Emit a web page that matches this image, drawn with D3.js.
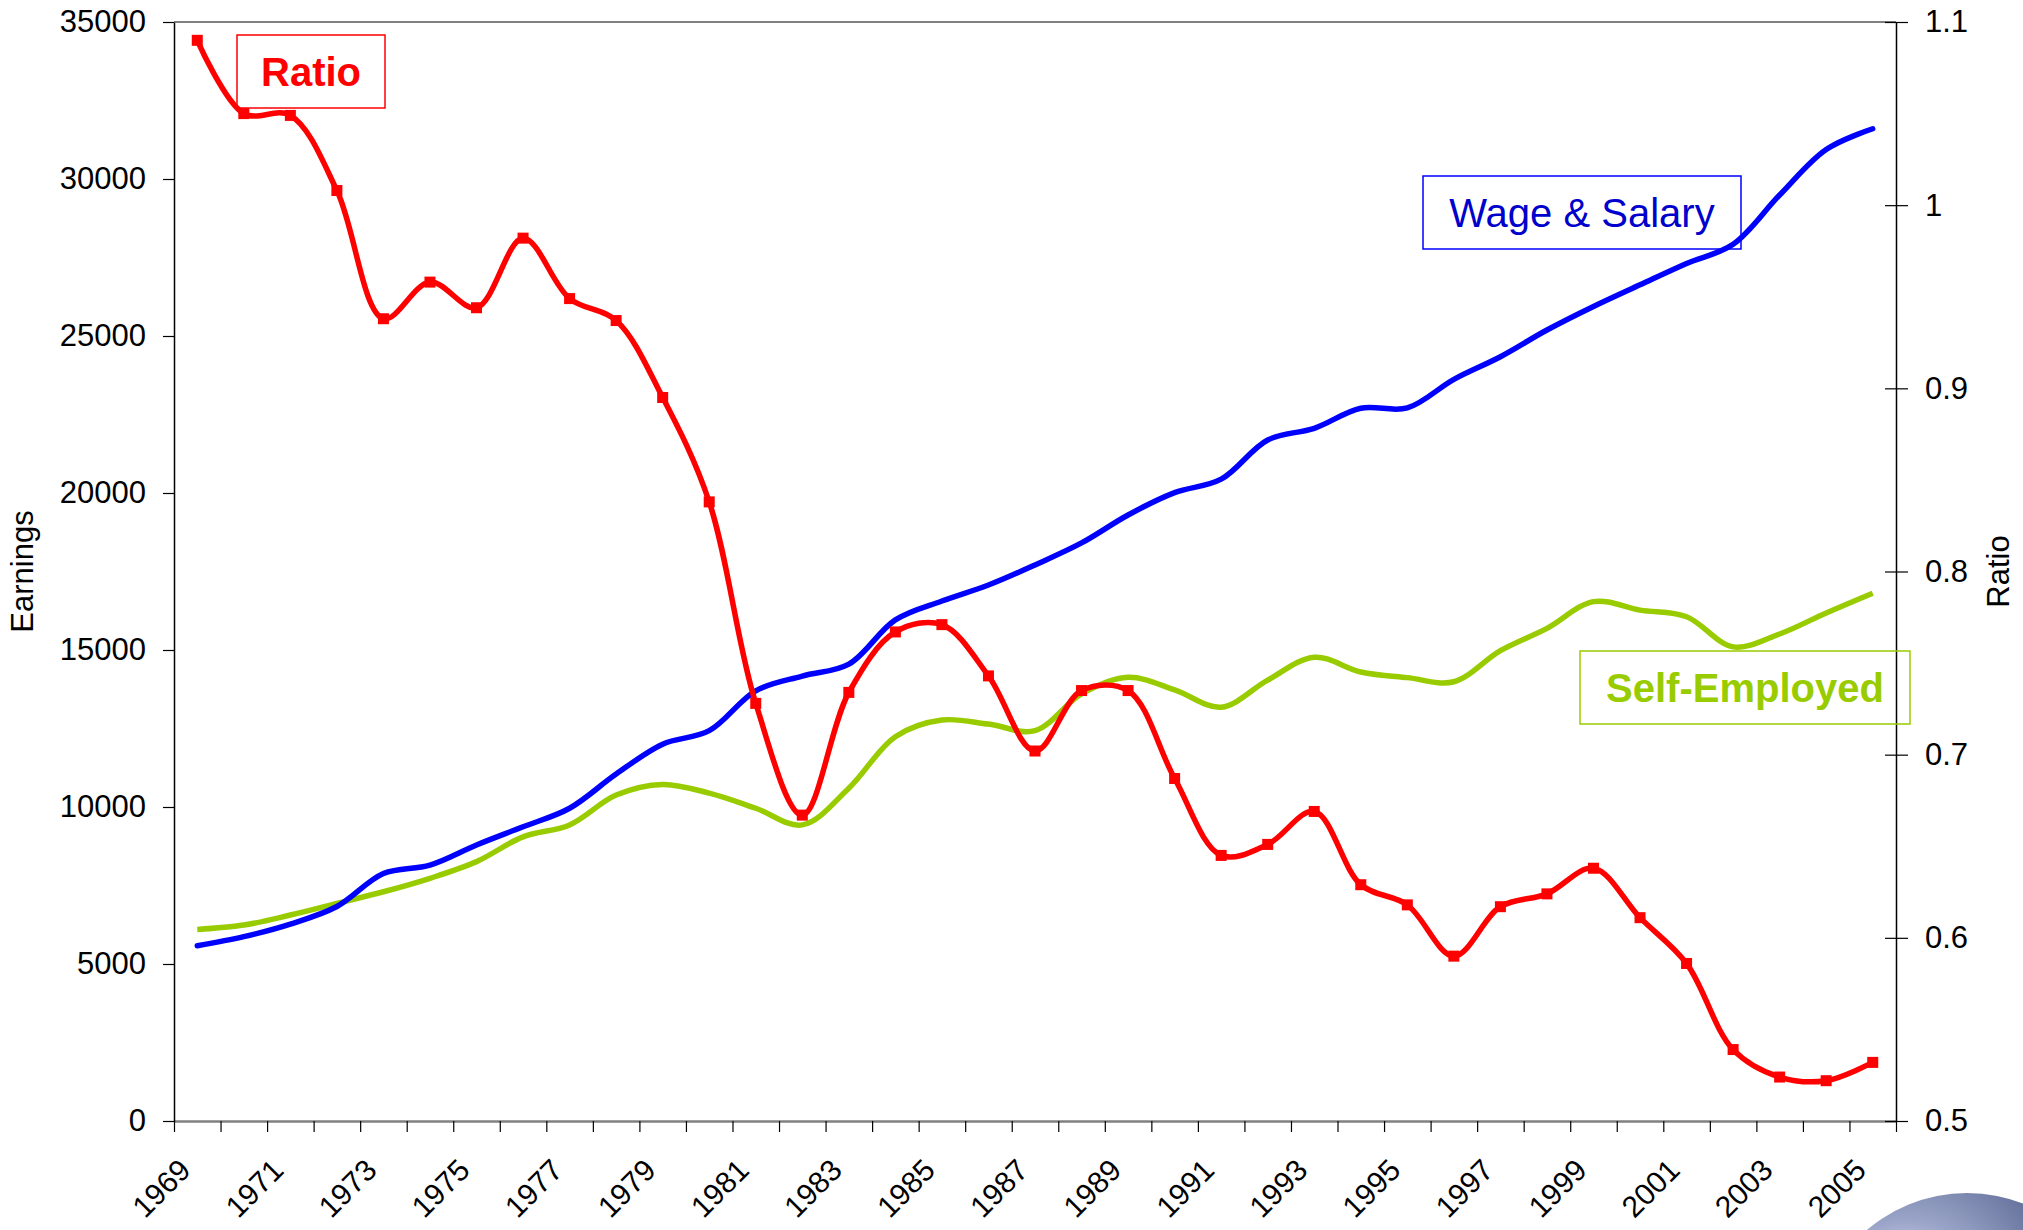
<!DOCTYPE html>
<html>
<head>
<meta charset="utf-8">
<script src="https://cdn.jsdelivr.net/npm/d3@7"></script>
<style>
	body { margin: 0; background: #fff; }
	text { font-family: "Liberation Sans", Arial, sans-serif; }
</style>
</head>
<body>
<svg id="chart" width="2023" height="1230"></svg>
<script>

// years on the category axis
var years = [1969, 1970, 1971, 1972, 1973, 1974, 1975, 1976, 1977, 1978,
	1979, 1980, 1981, 1982, 1983, 1984, 1985, 1986, 1987, 1988,
	1989, 1990, 1991, 1992, 1993, 1994, 1995, 1996, 1997, 1998,
	1999, 2000, 2001, 2002, 2003, 2004, 2005];

// only every other year gets a label
var yearLabels = [1969, 1971, 1973, 1975, 1977, 1979, 1981, 1983, 1985, 1987,
	1989, 1991, 1993, 1995, 1997, 1999, 2001, 2003, 2005];

// earnings
var wageSalary = [5580, 5870, 6270, 6830, 7880, 8150, 8790, 9370, 9960, 11050,
	12000, 12430, 13700, 14170, 14550, 15960, 16560, 17070, 17710, 18410,
	19300, 20010, 20440, 21690, 22060, 22700, 22710, 23620, 24340, 25190,
	25940, 26630, 27310, 27920, 29490, 30940, 31600];

var selfEmployed = [6100, 6240, 6560, 6930, 7300, 7730, 8260, 9050, 9430, 10380,
	10720, 10440, 9960, 9430, 10600, 12240, 12770, 12640, 12430, 13600,
	14130, 13730, 13180, 14040, 14770, 14300, 14120, 13990, 14980, 15690,
	16540, 16270, 16060, 15100, 15510, 16180, 16810];

// self-employed / wage & salary
var ratio = [1.090, 1.050, 1.049, 1.008, 0.938, 0.958, 0.944, 0.982, 0.949, 0.937,
	0.895, 0.838, 0.728, 0.667, 0.734, 0.767, 0.771, 0.743, 0.702, 0.735,
	0.735, 0.687, 0.645, 0.651, 0.669, 0.629, 0.618, 0.590, 0.617, 0.624,
	0.638, 0.611, 0.586, 0.539, 0.524, 0.522, 0.532];

var earnTicks = [0, 5000, 10000, 15000, 20000, 25000, 30000, 35000];
var ratioTicks = [0.5, 0.6, 0.7, 0.8, 0.9, 1, 1.1];

var svg = d3.select("#chart");
var margin = {top: 22, right: 127, bottom: 109, left: 174};
var W = +svg.attr("width"), H = +svg.attr("height");
var plotRight = W - margin.right;
var plotBottom = H - margin.bottom;

var font = '"Liberation Sans", Arial, sans-serif';
var red = "#ff0000", blue = "#0000ff", green = "#99cc00";

var x = d3.scaleLinear()
	.domain([years[0] - 0.5, years[years.length - 1] + 0.5])
	.range([margin.left, plotRight]);
var yEarn = d3.scaleLinear().domain([0, 35000]).range([plotBottom, margin.top]);
var yRatio = d3.scaleLinear().domain([0.5, 1.1]).range([plotBottom, margin.top]);

svg.append("rect")
	.attr("width", W).attr("height", H)
	.attr("fill", "#fff");

// decorative globe in the lower right corner
var grad = svg.append("defs").append("radialGradient")
	.attr("id", "globe")
	.attr("cx", "30%").attr("cy", "35%").attr("r", "75%");
grad.append("stop").attr("offset", "0%").attr("stop-color", "#ffffff");
grad.append("stop").attr("offset", "35%").attr("stop-color", "#9aa4c8");
grad.append("stop").attr("offset", "100%").attr("stop-color", "#2f3f6e");

svg.append("circle")
	.attr("cx", 1967).attr("cy", 1347).attr("r", 154)
	.attr("fill", "url(#globe)");

// top frame line
svg.append("line")
	.attr("x1", margin.left).attr("x2", plotRight)
	.attr("y1", margin.top).attr("y2", margin.top)
	.attr("stroke", "#808080")
	.attr("stroke-width", 2);

// x axis: ticks between categories
var edges = years.map(d => d - 0.5).concat([years[years.length - 1] + 0.5]);

var xAxis = svg.append("g")
	.attr("transform", "translate(0," + plotBottom + ")")
	.call(d3.axisBottom(x).tickValues(edges).tickSize(11).tickSizeOuter(0).tickFormat(""));
xAxis.select(".domain").attr("stroke", "#808080").attr("stroke-width", 2.5);
xAxis.selectAll(".tick line").attr("stroke", "#000").attr("stroke-width", 1.2);

svg.append("g")
	.selectAll("text")
	.data(yearLabels)
	.enter().append("text")
	.attr("transform", d => "translate(" + (x(d) - 5) + "," + (plotBottom + 51) + ") rotate(-45)")
	.attr("text-anchor", "end")
	.attr("font-size", 30)
	.attr("fill", "#000")
	.text(d => d);

// left axis
var yAxisL = svg.append("g")
	.attr("transform", "translate(" + margin.left + ",0)")
	.call(d3.axisLeft(yEarn).tickValues(earnTicks).tickSize(11).tickSizeOuter(0)
		.tickPadding(17).tickFormat(d3.format("d")));
yAxisL.attr("font-size", 31).attr("font-family", font);
yAxisL.select(".domain").attr("stroke-width", 1.5);
yAxisL.selectAll(".tick line").attr("stroke-width", 1.2);

// right axis, ticks cross the line
var yAxisR = svg.append("g")
	.attr("transform", "translate(" + plotRight + ",0)")
	.call(d3.axisRight(yRatio).tickValues(ratioTicks).tickSize(12).tickSizeOuter(0)
		.tickPadding(17).tickFormat(d3.format("~g")));
yAxisR.attr("font-size", 31).attr("font-family", font);
yAxisR.select(".domain").attr("stroke-width", 1.5);
yAxisR.selectAll(".tick line").attr("x1", -11).attr("stroke-width", 1.2);

// axis titles
svg.append("text")
	.attr("transform", "translate(33," + (margin.top + plotBottom) / 2 + ") rotate(-90)")
	.attr("text-anchor", "middle")
	.attr("font-size", 31)
	.text("Earnings");

svg.append("text")
	.attr("transform", "translate(2009," + (margin.top + plotBottom) / 2 + ") rotate(-90)")
	.attr("text-anchor", "middle")
	.attr("font-size", 31)
	.text("Ratio");

// annotation boxes
function label(bx, by, bw, bh, color, txt, bold, tcolor) {
	svg.append("rect")
		.attr("x", bx).attr("y", by)
		.attr("width", bw).attr("height", bh)
		.attr("fill", "none")
		.attr("stroke", color)
		.attr("stroke-width", 1.5);
	svg.append("text")
		.attr("x", bx + bw / 2)
		.attr("y", by + bh / 2 + 14.5)
		.attr("text-anchor", "middle")
		.attr("font-size", 40)
		.attr("font-weight", bold ? "bold" : "normal")
		.attr("fill", tcolor || color)
		.text(txt);
}

label(237, 35, 148, 73, red, "Ratio", true);
label(1423, 176, 318, 73, blue, "Wage & Salary", false, "#0000cc");
label(1580, 651, 330, 73, green, "Self-Employed", true);

// series lines
var earnLine = d3.line()
	.x((d, i) => x(years[i]))
	.y(d => yEarn(d))
	.curve(d3.curveCatmullRom);

var ratioLine = d3.line()
	.x((d, i) => x(years[i]))
	.y(d => yRatio(d))
	.curve(d3.curveCatmullRom);

svg.append("path")
	.datum(selfEmployed)
	.attr("fill", "none")
	.attr("stroke", green)
	.attr("stroke-width", 5.5)
	.attr("stroke-linejoin", "round")
	.attr("d", earnLine);

svg.append("path")
	.datum(wageSalary)
	.attr("fill", "none")
	.attr("stroke", blue)
	.attr("stroke-width", 5.5)
	.attr("stroke-linejoin", "round")
	.attr("stroke-linecap", "round")
	.attr("d", earnLine);

svg.append("path")
	.datum(ratio)
	.attr("fill", "none")
	.attr("stroke", red)
	.attr("stroke-width", 5.5)
	.attr("stroke-linejoin", "round")
	.attr("d", ratioLine);

svg.append("g")
	.selectAll("rect")
	.data(ratio)
	.enter().append("rect")
	.attr("x", (d, i) => x(years[i]) - 5.5)
	.attr("y", d => yRatio(d) - 5.5)
	.attr("width", 11)
	.attr("height", 11)
	.attr("fill", red);

</script>
</body>
</html>
